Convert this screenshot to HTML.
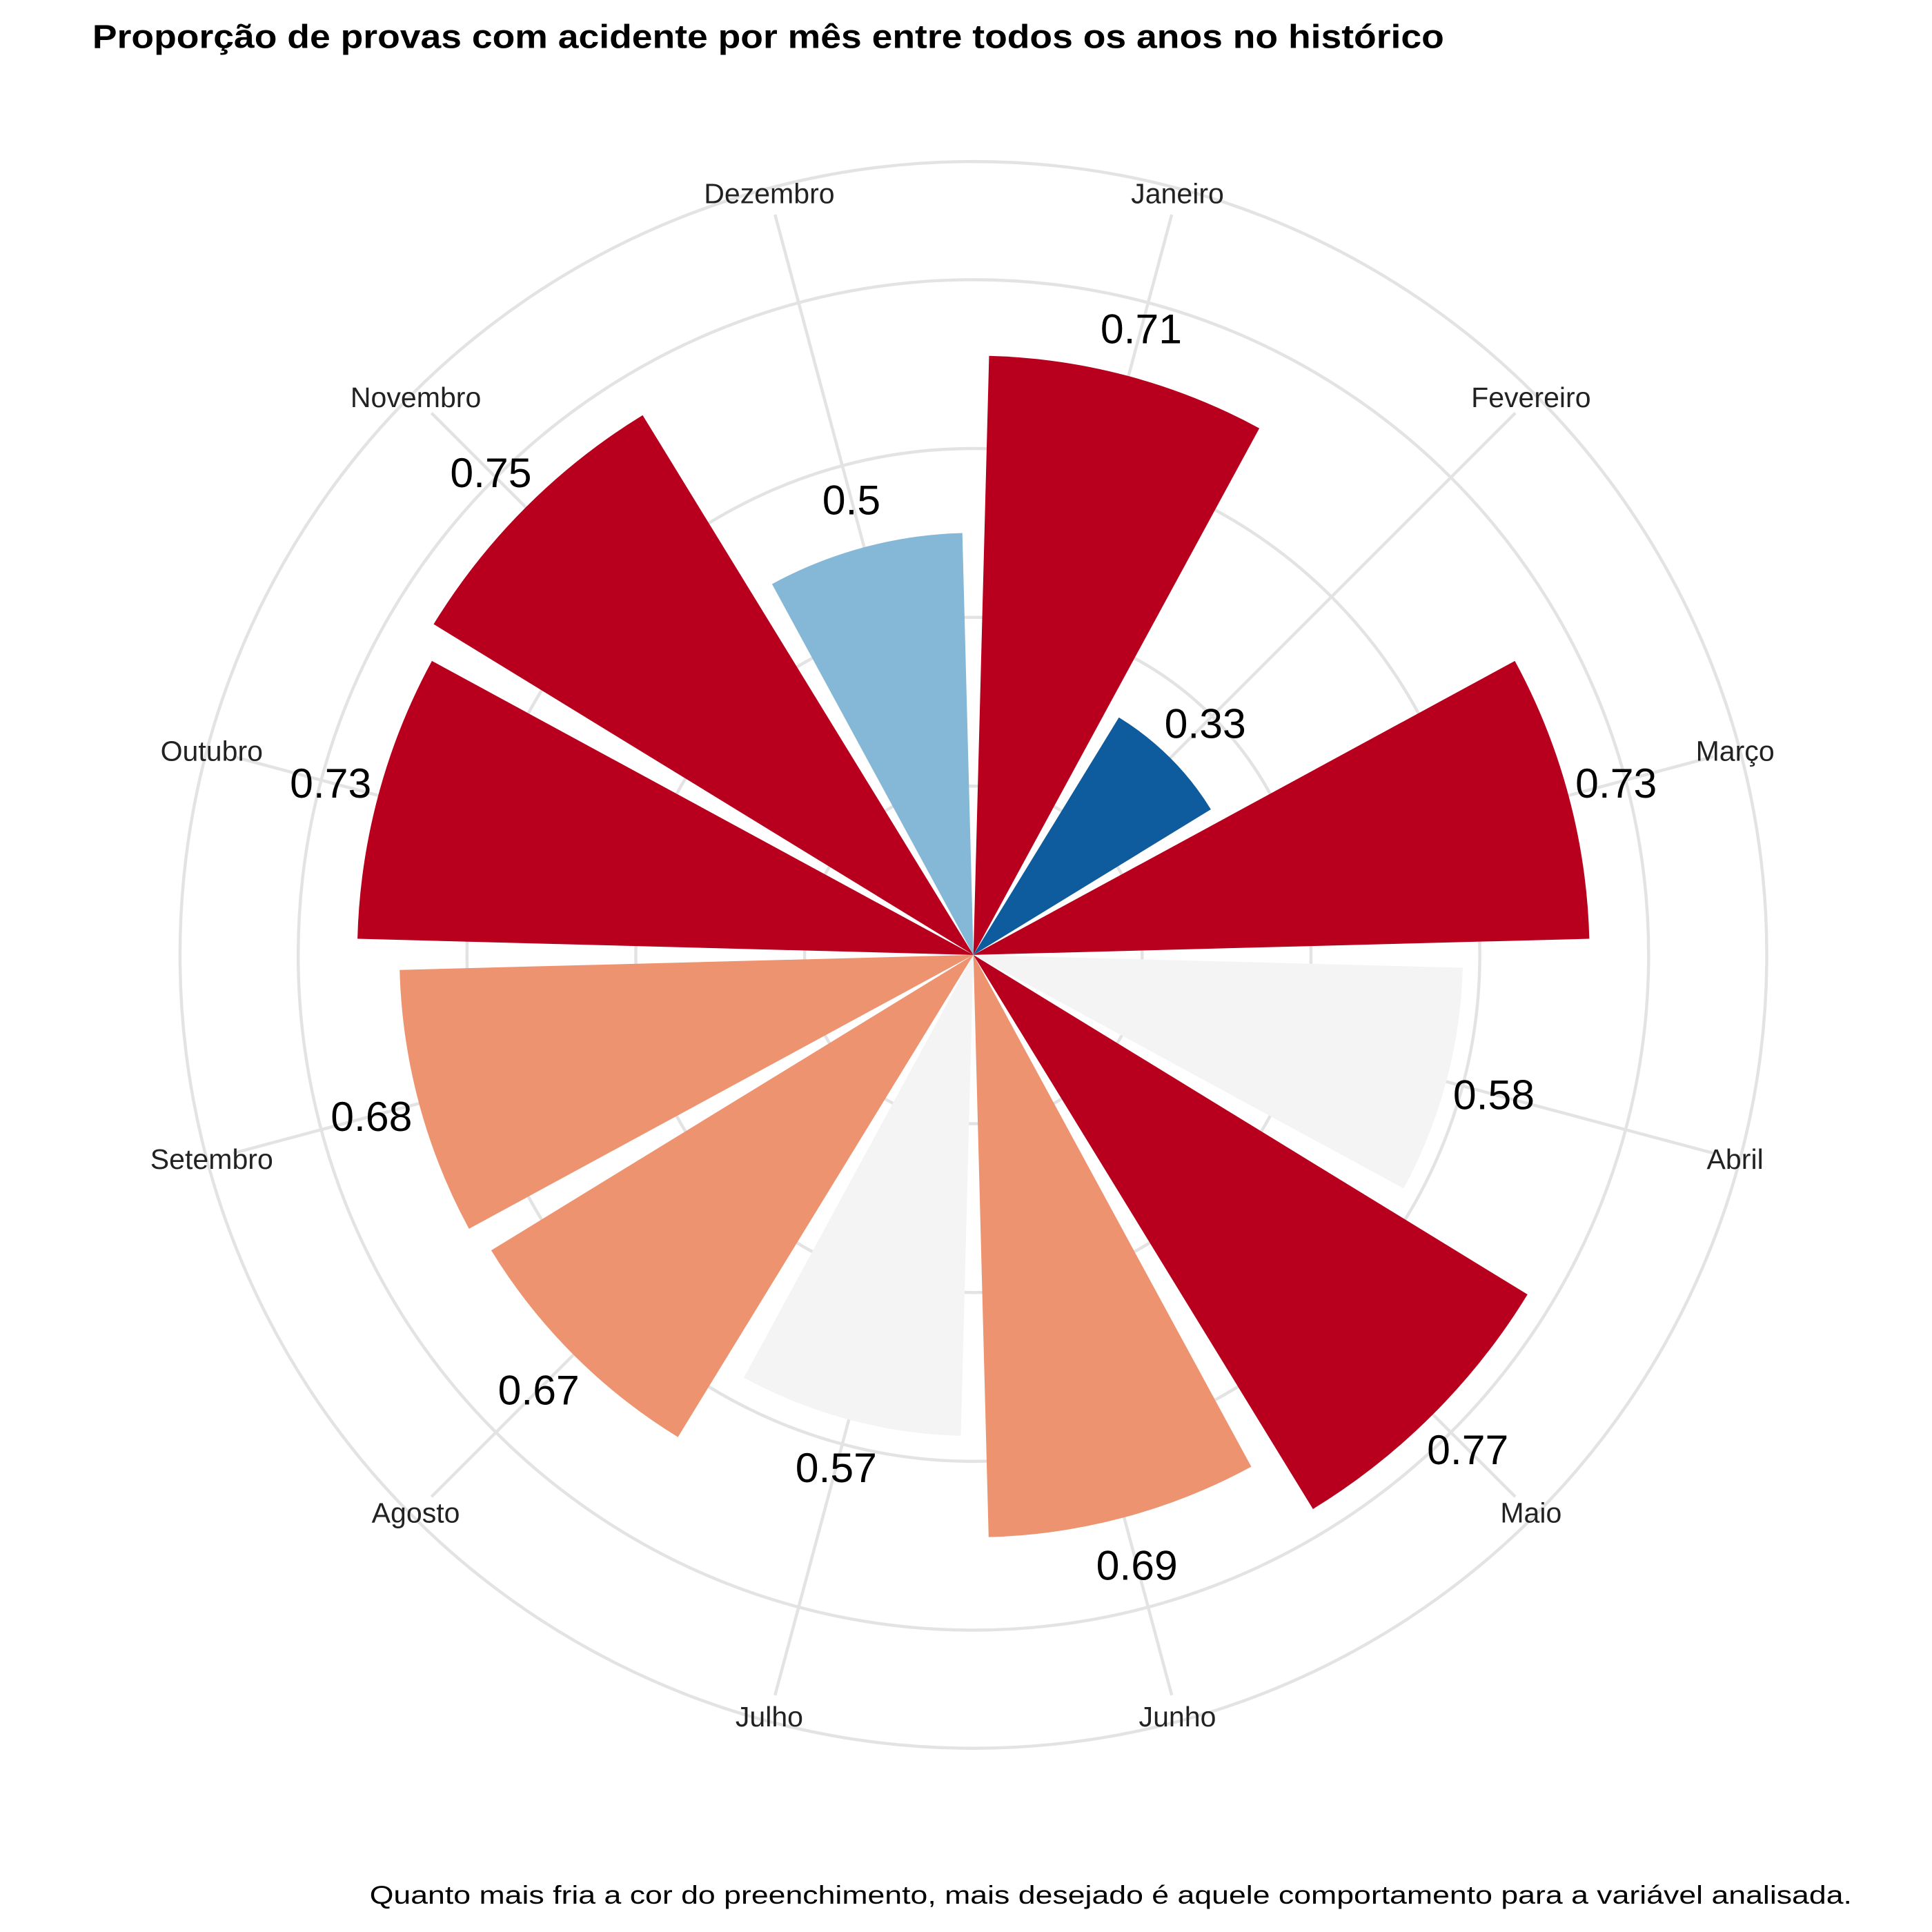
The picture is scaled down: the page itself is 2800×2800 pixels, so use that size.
<!DOCTYPE html>
<html><head><meta charset="utf-8">
<style>
html,body{margin:0;padding:0;background:#fff;}
svg{display:block;}
</style></head>
<body>
<svg id="chart" width="2800" height="2800" viewBox="0 0 1568 1568" xmlns="http://www.w3.org/2000/svg">
<rect width="1568" height="1568" fill="#fff"/>
<text x="75" y="39" textLength="1097" lengthAdjust="spacingAndGlyphs" font-family="Liberation Sans, sans-serif" font-weight="bold" font-size="27" fill="#000">Proporção de provas com acidente por mês entre todos os anos no histórico</text>
<g id="grid-layer"></g>
<g id="bar-layer"></g>
<g id="label-layer"></g>
<text x="300" y="1545" textLength="1203" lengthAdjust="spacingAndGlyphs" font-family="Liberation Sans, sans-serif" font-size="21" fill="#000">Quanto mais fria a cor do preenchimento, mais desejado é aquele comportamento para a variável analisada.</text>
</svg>
<script>
var months = ["Janeiro","Fevereiro","Março","Abril","Maio","Junho","Julho","Agosto","Setembro","Outubro","Novembro","Dezembro"];
var values = [0.71,0.33,0.73,0.58,0.77,0.69,0.57,0.67,0.68,0.73,0.75,0.5];
var valueLabels = ["0.71","0.33","0.73","0.58","0.77","0.69","0.57","0.67","0.68","0.73","0.75","0.5"];
var fills = ["#b8001e","#0e5c9d","#b8001e","#f4f4f4","#b8001e","#ee9370","#f4f4f4","#ee9370","#ee9370","#b8001e","#b8001e","#85b8d6"];
var gridTicks = [0.2,0.4,0.6,0.8,0.94];

var SVGNS = "http://www.w3.org/2000/svg";
var CX = 790, CY = 775, SCALE = 685;
function rOf(v){ return v*SCALE; }
function angOf(i){ return (i*30+15)*Math.PI/180; }
function px(r,a){ return CX + r*Math.sin(a); }
function py(r,a){ return CY - r*Math.cos(a); }
var gridLayer = document.getElementById('grid-layer');
var barLayer = document.getElementById('bar-layer');
var labelLayer = document.getElementById('label-layer');

for (var k=0;k<gridTicks.length;k++){
  var c = document.createElementNS(SVGNS,'circle');
  
  
  c.setAttribute('cx',CX); c.setAttribute('cy',CY); c.setAttribute('r',rOf(gridTicks[k]));
  c.setAttribute('fill','none'); c.setAttribute('stroke','#e3e3e3'); c.setAttribute('stroke-width','2.5');
  gridLayer.appendChild(c);
}
for (var i=0;i<months.length;i++){
  var a = angOf(i);
  var ln = document.createElementNS(SVGNS,'line');
  
  
  ln.setAttribute('x1',CX); ln.setAttribute('y1',CY);
  ln.setAttribute('x2',px(622,a)); ln.setAttribute('y2',py(622,a));
  ln.setAttribute('stroke','#e3e3e3'); ln.setAttribute('stroke-width','2.5');
  gridLayer.appendChild(ln);
}
for (var j=0;j<values.length;j++){
  var ang = angOf(j), hw = 13.5*Math.PI/180, r = rOf(values[j]);
  var d = 'M'+CX+','+CY+' L'+px(r,ang-hw)+','+py(r,ang-hw)+' A'+r+','+r+' 0 0 1 '+px(r,ang+hw)+','+py(r,ang+hw)+' Z';
  var p = document.createElementNS(SVGNS,'path');
  
  
  p.setAttribute('d',d);
  p.setAttribute('fill',fills[j]);
  barLayer.appendChild(p);

  var vt = document.createElementNS(SVGNS,'text');
  
  
  vt.setAttribute('x',px(r+40,ang)); vt.setAttribute('y',py(r+40,ang)+12);
  vt.setAttribute('text-anchor','middle');
  vt.setAttribute('font-family','Liberation Sans, sans-serif'); vt.setAttribute('font-size','34');
  vt.appendChild(document.createTextNode(valueLabels[j]));
  labelLayer.appendChild(vt);

  var mt = document.createElementNS(SVGNS,'text');
  
  
  mt.setAttribute('x',px(640,ang)); mt.setAttribute('y',py(640,ang)+8);
  mt.setAttribute('text-anchor','middle');
  mt.setAttribute('font-family','Liberation Sans, sans-serif'); mt.setAttribute('font-size','23');
  mt.setAttribute('fill','#222');
  mt.appendChild(document.createTextNode(months[j]));
  labelLayer.appendChild(mt);
}
</script>
</body></html>
